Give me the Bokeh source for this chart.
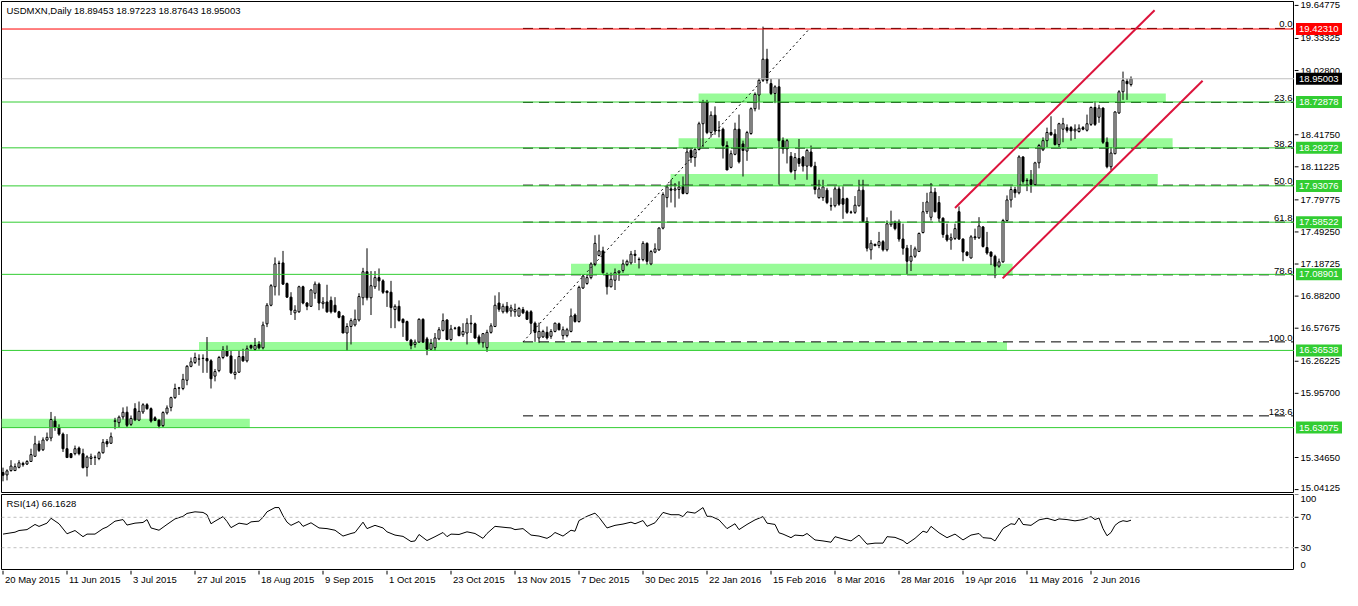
from bokeh.plotting import figure
from bokeh.layouts import column, row
from bokeh.models import Range1d, ColumnDataSource, Span
from bokeh.core.properties import value
from bokeh.embed import file_html
from bokeh.resources import INLINE

# ---------------- data ----------------
opens = [15.203, 15.181, 15.222, 15.222, 15.253, 15.290, 15.284, 15.309, 15.358, 15.476,
         15.420, 15.513, 15.532, 15.693, 15.631, 15.569, 15.430, 15.383, 15.383, 15.436,
         15.383, 15.253, 15.337, 15.346, 15.337, 15.392, 15.498, 15.482, 15.690, 15.678,
         15.733, 15.777, 15.662, 15.811, 15.702, 15.780, 15.848, 15.811, 15.724, 15.702,
         15.650, 15.771, 15.823, 15.916, 16.006, 16.003, 16.081, 16.214, 16.251, 16.282,
         16.288, 16.288, 16.266, 16.121, 16.173, 16.298, 16.360, 16.313, 16.136, 16.158,
         16.307, 16.266, 16.412, 16.375, 16.422, 16.390, 16.618, 16.795, 16.971, 17.192,
         17.198, 17.002, 16.872, 16.723, 16.733, 16.971, 16.816, 16.785, 16.909, 16.996,
         16.810, 16.826, 16.841, 16.795, 16.733, 16.692, 16.531, 16.593, 16.608, 16.655,
         16.866, 17.114, 16.866, 16.971, 17.058, 17.027, 16.930, 16.919, 16.754, 16.785,
         16.661, 16.640, 16.463, 16.422, 16.444, 16.661, 16.475, 16.376, 16.392, 16.475,
         16.556, 16.655, 16.469, 16.575, 16.587, 16.515, 16.531, 16.624, 16.618, 16.494,
         16.438, 16.392, 16.537, 16.593, 16.816, 16.733, 16.785, 16.740, 16.733, 16.692,
         16.754, 16.733, 16.733, 16.624, 16.484, 16.494, 16.537, 16.500, 16.546, 16.618,
         16.506, 16.506, 16.546, 16.702, 16.640, 16.959, 17.002, 17.058, 17.182, 17.269,
         17.312, 17.089, 16.971, 17.033, 17.105, 17.126, 17.182, 17.198, 17.281, 17.232,
         17.229, 17.384, 17.188, 17.300, 17.322, 17.529, 17.819, 17.902, 17.890, 17.896,
         17.927, 17.859, 18.268, 18.200, 18.277, 18.522, 18.724, 18.438, 18.603, 18.454,
         18.470, 18.315, 18.107, 18.231, 18.470, 18.330, 18.262, 18.429, 18.665, 18.795,
         18.935, 19.136, 18.904, 18.810, 18.873, 18.361, 18.284, 18.212, 18.076, 18.191,
         18.206, 18.119, 18.253, 18.119, 17.819, 17.819, 17.890, 17.742, 17.742, 17.902,
         17.809, 17.809, 17.679, 17.679, 17.741, 17.890, 17.592, 17.323, 17.375, 17.363,
         17.400, 17.323, 17.561, 17.580, 17.580, 17.425, 17.338, 17.214, 17.261, 17.307,
         17.487, 17.685, 17.632, 17.871, 17.772, 17.623, 17.462, 17.416, 17.431, 17.685,
         17.425, 17.301, 17.245, 17.446, 17.437, 17.540, 17.344, 17.301, 17.261, 17.167,
         17.208, 17.601, 17.797, 17.896, 17.865, 18.206, 17.980, 17.989, 17.942, 18.150,
         18.274, 18.361, 18.439, 18.423, 18.324, 18.470, 18.485, 18.485, 18.454, 18.448,
         18.485, 18.460, 18.516, 18.677, 18.584, 18.671, 18.346, 18.113, 18.237, 18.625,
         18.826, 18.925, 18.89453]
highs = [15.250, 15.234, 15.321, 15.290, 15.321, 15.306, 15.321, 15.430, 15.553, 15.507,
         15.538, 15.584, 15.780, 15.739, 15.662, 15.584, 15.569, 15.389, 15.460, 15.451,
         15.430, 15.367, 15.383, 15.367, 15.405, 15.522, 15.522, 15.584, 15.724, 15.746,
         15.823, 15.832, 15.746, 15.863, 15.879, 15.863, 15.863, 15.823, 15.739, 15.708,
         15.786, 15.842, 15.925, 16.049, 16.018, 16.142, 16.226, 16.298, 16.344, 16.328,
         16.328, 16.493, 16.282, 16.189, 16.313, 16.406, 16.412, 16.360, 16.282, 16.360,
         16.381, 16.412, 16.422, 16.484, 16.453, 16.639, 16.816, 16.996, 17.250, 17.219,
         17.312, 17.011, 16.919, 16.795, 16.981, 16.981, 16.826, 16.950, 17.021, 17.011,
         16.872, 16.990, 16.878, 16.872, 16.742, 16.702, 16.624, 16.671, 16.754, 16.909,
         17.151, 17.337, 17.120, 17.120, 17.145, 17.042, 16.935, 17.027, 16.804, 16.841,
         16.671, 16.649, 16.475, 16.469, 16.671, 16.671, 16.494, 16.475, 16.531, 16.587,
         16.717, 16.661, 16.608, 16.590, 16.593, 16.624, 16.671, 16.702, 16.630, 16.515,
         16.531, 16.562, 16.624, 16.888, 16.919, 16.810, 16.826, 16.800, 16.810, 16.779,
         16.779, 16.748, 16.748, 16.640, 16.630, 16.562, 16.593, 16.568, 16.630, 16.630,
         16.593, 16.580, 16.764, 16.717, 16.981, 17.089, 17.089, 17.204, 17.461, 17.467,
         17.352, 17.105, 17.105, 17.145, 17.126, 17.229, 17.229, 17.312, 17.321, 17.250,
         17.405, 17.393, 17.321, 17.384, 17.538, 17.870, 17.943, 17.989, 17.958, 17.974,
         18.020, 18.299, 18.284, 18.293, 18.541, 18.749, 18.749, 18.640, 18.687, 18.547,
         18.485, 18.355, 18.268, 18.532, 18.609, 18.361, 18.454, 18.677, 18.820, 18.956,
         19.446, 19.235, 18.950, 18.888, 18.950, 18.392, 18.377, 18.253, 18.243, 18.377,
         18.212, 18.284, 18.315, 18.160, 17.989, 17.989, 17.912, 17.819, 17.927, 17.927,
         17.927, 17.819, 17.695, 17.834, 17.989, 17.989, 17.632, 17.415, 17.380, 17.493,
         17.415, 17.601, 17.695, 17.601, 17.611, 17.571, 17.369, 17.369, 17.353, 17.487,
         17.778, 17.865, 17.958, 17.911, 17.834, 17.632, 17.571, 17.478, 17.571, 17.735,
         17.431, 17.307, 17.462, 17.524, 17.633, 17.549, 17.493, 17.307, 17.276, 17.239,
         17.617, 17.840, 17.927, 17.921, 18.222, 18.212, 18.004, 18.082, 18.160, 18.330,
         18.392, 18.485, 18.593, 18.470, 18.531, 18.578, 18.516, 18.500, 18.516, 18.516,
         18.500, 18.609, 18.686, 18.733, 18.702, 18.677, 18.392, 18.299, 18.640, 18.841,
         19.018, 18.950, 18.97223]
lows = [15.120, 15.129, 15.212, 15.222, 15.243, 15.259, 15.275, 15.306, 15.352, 15.399,
        15.408, 15.501, 15.501, 15.600, 15.553, 15.399, 15.346, 15.340, 15.367, 15.367,
        15.243, 15.166, 15.275, 15.275, 15.321, 15.383, 15.445, 15.476, 15.615, 15.631,
        15.708, 15.637, 15.647, 15.693, 15.693, 15.761, 15.801, 15.678, 15.693, 15.625,
        15.637, 15.755, 15.786, 15.904, 15.941, 15.987, 16.034, 16.205, 16.236, 16.220,
        16.152, 16.152, 16.003, 16.071, 16.158, 16.282, 16.307, 16.142, 16.090, 16.152,
        16.257, 16.251, 16.375, 16.360, 16.375, 16.375, 16.587, 16.785, 16.888, 16.888,
        16.990, 16.866, 16.702, 16.655, 16.723, 16.804, 16.748, 16.779, 16.857, 16.748,
        16.763, 16.723, 16.717, 16.723, 16.671, 16.531, 16.361, 16.422, 16.593, 16.640,
        16.795, 16.841, 16.702, 16.950, 16.934, 16.903, 16.779, 16.577, 16.577, 16.640,
        16.494, 16.453, 16.376, 16.392, 16.438, 16.438, 16.320, 16.370, 16.361, 16.463,
        16.546, 16.463, 16.453, 16.562, 16.500, 16.494, 16.422, 16.531, 16.475, 16.422,
        16.392, 16.351, 16.525, 16.587, 16.733, 16.717, 16.717, 16.686, 16.686, 16.686,
        16.711, 16.655, 16.531, 16.447, 16.438, 16.484, 16.469, 16.475, 16.537, 16.556,
        16.469, 16.490, 16.537, 16.630, 16.630, 16.950, 16.990, 17.042, 17.167, 17.260,
        17.095, 16.897, 16.965, 16.940, 17.027, 17.105, 17.167, 17.182, 17.198, 17.145,
        17.213, 17.182, 17.176, 17.290, 17.312, 17.517, 17.726, 17.772, 17.726, 17.809,
        17.850, 17.850, 18.150, 18.113, 18.268, 18.299, 18.423, 18.392, 18.417, 18.392,
        18.191, 18.082, 18.098, 18.222, 18.144, 18.020, 18.169, 18.417, 18.640, 18.656,
        18.919, 18.904, 18.795, 18.718, 17.943, 18.237, 18.144, 18.051, 17.989, 18.113,
        18.067, 17.989, 18.107, 17.850, 17.809, 17.788, 17.757, 17.695, 17.726, 17.741,
        17.617, 17.664, 17.664, 17.664, 17.735, 17.586, 17.307, 17.230, 17.355, 17.338,
        17.307, 17.307, 17.540, 17.508, 17.400, 17.276, 17.090, 17.121, 17.245, 17.301,
        17.478, 17.663, 17.601, 17.679, 17.586, 17.437, 17.400, 17.323, 17.416, 17.416,
        17.214, 17.261, 17.239, 17.416, 17.425, 17.344, 17.276, 17.177, 17.053, 17.152,
        17.199, 17.592, 17.725, 17.818, 17.850, 17.952, 17.881, 17.865, 17.933, 18.098,
        18.262, 18.299, 18.408, 18.315, 18.299, 18.346, 18.438, 18.361, 18.377, 18.438,
        18.460, 18.448, 18.501, 18.501, 18.531, 18.330, 18.098, 18.082, 18.231, 18.615,
        18.749, 18.749, 18.87643]
closes = [15.178, 15.219, 15.265, 15.259, 15.296, 15.278, 15.309, 15.374, 15.476, 15.414,
          15.513, 15.538, 15.708, 15.631, 15.569, 15.430, 15.346, 15.346, 15.430, 15.383,
          15.250, 15.352, 15.352, 15.349, 15.392, 15.491, 15.476, 15.544, 15.696, 15.730,
          15.777, 15.653, 15.718, 15.705, 15.786, 15.848, 15.811, 15.693, 15.699, 15.647,
          15.774, 15.817, 15.916, 16.003, 16.009, 16.090, 16.214, 16.257, 16.298, 16.285,
          16.291, 16.266, 16.096, 16.164, 16.298, 16.369, 16.313, 16.152, 16.158, 16.307,
          16.266, 16.381, 16.390, 16.412, 16.390, 16.607, 16.795, 16.981, 17.188, 17.195,
          16.996, 16.872, 16.748, 16.748, 16.971, 16.816, 16.785, 16.940, 16.996, 16.816,
          16.826, 16.733, 16.733, 16.733, 16.680, 16.531, 16.593, 16.649, 16.661, 16.878,
          17.114, 16.866, 16.981, 17.058, 17.027, 16.919, 16.915, 16.773, 16.785, 16.649,
          16.630, 16.463, 16.413, 16.444, 16.661, 16.444, 16.376, 16.432, 16.484, 16.562,
          16.649, 16.469, 16.568, 16.578, 16.506, 16.546, 16.624, 16.618, 16.484, 16.438,
          16.525, 16.537, 16.599, 16.795, 16.757, 16.785, 16.733, 16.770, 16.754, 16.764,
          16.723, 16.661, 16.624, 16.537, 16.546, 16.546, 16.484, 16.546, 16.624, 16.562,
          16.562, 16.562, 16.692, 16.640, 16.965, 17.073, 17.058, 17.188, 17.384, 17.312,
          17.105, 16.971, 17.042, 17.105, 17.120, 17.188, 17.213, 17.281, 17.269, 17.229,
          17.384, 17.213, 17.306, 17.331, 17.529, 17.848, 17.921, 17.890, 17.902, 17.921,
          17.859, 18.253, 18.200, 18.277, 18.522, 18.724, 18.438, 18.603, 18.454, 18.460,
          18.315, 18.082, 18.237, 18.470, 18.160, 18.268, 18.438, 18.665, 18.801, 18.935,
          19.136, 18.935, 18.810, 18.873, 18.361, 18.284, 18.361, 18.067, 18.200, 18.144,
          18.119, 18.268, 18.119, 17.896, 17.902, 17.921, 17.772, 17.739, 17.902, 17.757,
          17.757, 17.679, 17.682, 17.747, 17.890, 17.592, 17.338, 17.385, 17.363, 17.400,
          17.323, 17.570, 17.580, 17.524, 17.425, 17.338, 17.214, 17.261, 17.332, 17.478,
          17.685, 17.778, 17.871, 17.685, 17.623, 17.468, 17.416, 17.437, 17.524, 17.425,
          17.301, 17.270, 17.446, 17.437, 17.549, 17.354, 17.292, 17.261, 17.167, 17.208,
          17.601, 17.797, 17.896, 17.865, 18.206, 17.973, 17.984, 17.942, 18.150, 18.315,
          18.361, 18.439, 18.417, 18.324, 18.522, 18.522, 18.460, 18.454, 18.470, 18.479,
          18.470, 18.522, 18.677, 18.516, 18.671, 18.346, 18.113, 18.243, 18.634, 18.826,
          18.935, 18.903, 18.95003]
bars = list(range(1, len(closes) + 1))

symbol = "USDMXN,Daily"

# horizontal levels
green_levels = [18.72878, 18.29272, 17.93076, 17.58522, 17.08901, 16.36538, 15.63075]
red_level = 19.42310

# light-green zones (bar range, price range)
zone_left = [0.6, 50.0, 143.0, 167.9, 169.9, 174.9]
zone_right = [62.7, 252.0, 253.4, 289.7, 293.4, 291.7]
zone_bottom = [15.63075, 16.36538, 17.08901, 17.93076, 18.29272, 18.72878]
zone_top = [15.714, 16.446, 17.191, 18.044, 18.385, 18.810]

# Fibonacci retracement
fib_high = 19.429
fib_low = 16.4465
fib_bar_low = 131.0
fib_bar_high = 202.7
fib_pcts = [0.0, 23.6, 38.2, 50.0, 61.8, 78.6, 100.0, 123.6, 150.0]

# red channel
chan_up_x = [239.0, 288.9]
chan_up_y = [17.721, 19.601]
chan_dn_x = [250.9, 300.9]
chan_dn_y = [17.051, 18.931]

# price axis ticks
y_ticks = [19.64775, 19.33325, 19.02800, 18.41750, 18.11225, 17.79775, 17.49250,
           17.18725, 16.88200, 16.57675, 16.26225, 15.95700, 15.34650, 15.04125]

# date axis
date_ticks = [1, 17, 33, 49, 65, 81, 97, 113, 129, 145, 161, 177, 193, 209, 225, 241, 257, 273]
date_labels = ["20 May 2015", "11 Jun 2015", "3 Jul 2015", "27 Jul 2015", "18 Aug 2015",
               "9 Sep 2015", "1 Oct 2015", "23 Oct 2015", "13 Nov 2015", "7 Dec 2015",
               "30 Dec 2015", "22 Jan 2016", "15 Feb 2016", "8 Mar 2016", "28 Mar 2016",
               "19 Apr 2016", "11 May 2016", "2 Jun 2016"]

# RSI(14) vertices (bar, value)
rsi_bars = [1, 4, 5, 7, 9, 10, 12, 13, 15, 17, 19, 21, 22, 24, 26, 27, 29, 31, 32, 34,
            36, 37, 38, 40, 42, 44, 46, 47, 49, 51, 52, 53, 54, 56, 57, 58, 60, 62, 63, 64,
            65, 66, 67, 69, 70, 71, 72, 73, 75, 76, 78, 80, 82, 84, 86, 88, 89, 91, 92, 94,
            96, 97, 99, 101, 103, 104, 105, 107, 109, 111, 112, 113, 115, 117, 119, 121, 122,
            124, 127, 128, 129, 131, 133, 135, 137, 138, 139, 141, 143, 144, 145, 147, 149,
            150, 152, 154, 156, 158, 159, 161, 162, 164, 166, 168, 170, 171, 172, 174, 176,
            177, 178, 180, 182, 184, 185, 187, 189, 191, 192, 194, 195, 196, 198, 199, 201,
            202, 204, 206, 208, 209, 211, 213, 215, 217, 219, 221, 222, 224, 226, 227, 229,
            231, 232, 233, 235, 237, 239, 241, 243, 245, 246, 248, 249, 251, 253, 254, 255,
            256, 258, 260, 262, 264, 265, 267, 269, 271, 273, 274, 275, 276, 277, 278, 279,
            280, 281, 282, 283]
rsi_vals = [47.9, 50.4, 52.6, 53.8, 60.6, 58.0, 62.3, 68.7, 61.5, 48.3, 52.6, 44.5, 47.9,
            47.9, 55.1, 57.2, 64.9, 67.0, 59.8, 62.3, 63.2, 67.0, 56.0, 53.0, 60.6, 67.9,
            71.3, 75.1, 77.2, 76.4, 73.4, 61.5, 64.9, 70.9, 64.5, 56.4, 62.3, 60.6, 64.0,
            64.5, 64.9, 70.0, 77.2, 82.8, 82.8, 72.1, 63.6, 59.4, 64.5, 58.1, 62.8, 56.0,
            55.1, 53.0, 45.3, 48.7, 50.0, 63.6, 55.1, 59.4, 56.0, 50.9, 46.6, 44.9, 38.1,
            38.9, 47.4, 39.4, 44.5, 50.0, 44.5, 47.9, 47.4, 50.9, 48.7, 42.3, 48.7, 58.1,
            56.4, 56.0, 53.8, 55.1, 46.6, 45.3, 42.3, 45.3, 50.0, 45.3, 53.0, 51.7, 65.7,
            71.3, 75.5, 70.0, 56.0, 59.4, 61.1, 63.6, 61.5, 65.7, 58.1, 62.8, 76.4, 73.4,
            73.4, 70.9, 77.2, 75.5, 82.8, 71.3, 71.3, 66.6, 55.1, 61.5, 53.8, 60.6, 66.6,
            70.9, 62.3, 60.6, 49.6, 47.9, 43.2, 46.6, 45.7, 48.7, 40.2, 38.9, 37.2, 44.5,
            41.5, 38.9, 46.6, 34.7, 36.0, 36.0, 44.5, 43.6, 39.4, 35.1, 42.3, 51.7, 50.0,
            58.1, 49.6, 43.2, 47.9, 40.2, 46.6, 48.7, 43.2, 42.3, 38.9, 55.1, 61.5, 60.6,
            69.1, 60.6, 59.4, 66.6, 68.7, 65.7, 67.9, 67.0, 65.3, 67.0, 70.9, 67.0, 69.1,
            55.1, 45.7, 50.0, 59.4, 63.5, 65.5, 64.5, 66.1628]
rsi_levels = [70, 30]
rsi_ticks = [100, 70, 30, 0]

# ---------------- layout constants ----------------
FRAME_W = 1293
MAIN_H = 492
RSI_H = 76
AX_W = 48
DATE_H = 19
BAR_PX = 4.0                         # pixels per bar, as in the original
X_START = 0.625
X_END = X_START + FRAME_W / BAR_PX
Y_LOW, Y_HIGH = 15.004, 19.685
FONT = "Liberation Sans"
FS = "9.5px"
PX = MAIN_H / (Y_HIGH - Y_LOW)      # pixels per price unit
RPX = RSI_H / 100.0                 # pixels per RSI unit


def fig(**kw):
    f = figure(toolbar_location=None, output_backend="svg", x_axis_location=None,
               y_axis_location=None, min_border_left=0, min_border_right=0,
               min_border_top=0, min_border_bottom=0, **kw)
    f.grid.visible = False
    f.background_fill_color = "white"
    f.border_fill_color = "white"
    return f


xr = Range1d(X_START, X_END)
yr = Range1d(Y_LOW, Y_HIGH)

# ---------------- main price panel ----------------
p = fig(frame_width=FRAME_W, frame_height=MAIN_H, x_range=xr, y_range=yr)
p.min_border_left = 1
p.min_border_top = 1
p.outline_line_color = "black"
p.outline_line_width = 1

p.quad(left=zone_left, right=zone_right, bottom=zone_bottom, top=zone_top,
       fill_color="#98FB98", line_color=None)

tops = [max(o, c) for o, c in zip(opens, closes)]
bots = [min(o, c) for o, c in zip(opens, closes)]
fills = ["white" if c >= o else "black" for o, c in zip(opens, closes)]
src = ColumnDataSource(dict(x=bars, h=highs, l=lows, top=tops, bot=bots, fill=fills))
p.segment(x0="x", x1="x", y0="l", y1="h", source=src, line_color="black", line_width=1)
p.vbar(x="x", width=0.5, top="top", bottom="bot", fill_color="fill",
       line_color="black", line_width=1, source=src)

fib_levels = [fib_high - pc / 100.0 * (fib_high - fib_low) for pc in fib_pcts]
p.segment(x0=[fib_bar_low] * len(fib_levels), x1=[X_END] * len(fib_levels),
          y0=fib_levels, y1=fib_levels, line_color="black", line_width=1, line_dash="10 6")
p.line([fib_bar_low, fib_bar_high], [fib_low, fib_high], line_color="black",
       line_width=1, line_dash="2 3")

p.segment(x0=[X_START] * len(green_levels), x1=[X_END] * len(green_levels),
          y0=green_levels, y1=green_levels, line_color="#32CD32", line_width=1)
p.segment(x0=[X_START], x1=[X_END], y0=[red_level], y1=[red_level],
          line_color="#FF0000", line_width=1)
p.segment(x0=[X_START], x1=[X_END], y0=[closes[-1]], y1=[closes[-1]],
          line_color="#C0C0C0", line_width=1)

p.line(chan_up_x, chan_up_y, line_color="#DC143C", line_width=2)
p.line(chan_dn_x, chan_dn_y, line_color="#DC143C", line_width=2)

p.text(x=[X_END] * len(fib_pcts), y=[lv + 1.0 / PX for lv in fib_levels],
       text=[f"{pc:.1f}" for pc in fib_pcts], x_offset=-2, text_align="right",
       text_baseline="bottom", text_font=value(FONT), text_font_size=FS, text_color="black")

title = f"{symbol}  {opens[-1]:.5f} {highs[-1]:.5f} {lows[-1]:.5f} {closes[-1]:.5f}"
p.text(x=[X_START], y=[Y_HIGH - 3.0 / PX], text=[title], x_offset=5, text_align="left",
       text_baseline="top", text_font=value(FONT), text_font_size=FS, text_color="black")

# ---------------- price axis strip ----------------
pax = fig(frame_width=AX_W, frame_height=MAIN_H, x_range=Range1d(0, AX_W), y_range=yr)
pax.min_border_top = 1
pax.outline_line_color = None
pax.segment(x0=[0] * len(y_ticks), x1=[4] * len(y_ticks), y0=y_ticks, y1=y_ticks,
            line_color="black", line_width=1)
tick_y = [max(v, Y_LOW + 6.0 / PX) for v in y_ticks]
pax.text(x=[6] * len(y_ticks), y=tick_y, text=[f"{v:.5f}" for v in y_ticks],
         text_align="left", text_baseline="middle", text_font=value(FONT),
         text_font_size=FS, text_color="black")

box_vals = [red_level, closes[-1]] + green_levels
box_cols = ["#FF0000", "black"] + ["#32CD32"] * len(green_levels)
pax.rect(x=[AX_W / 2 + 0.5] * len(box_vals), y=box_vals, width=46, height=12,
         width_units="screen", height_units="screen", fill_color=box_cols, line_color=None)
pax.text(x=[4.5] * len(box_vals), y=box_vals, text=[f"{v:.5f}" for v in box_vals],
         text_align="left", text_baseline="middle", text_font=value(FONT),
         text_font_size=FS, text_color="white")

# ---------------- RSI panel ----------------
rr = Range1d(0, 100)
r = fig(frame_width=FRAME_W, frame_height=RSI_H, x_range=xr, y_range=rr)
r.min_border_left = 1
r.min_border_top = 1
r.outline_line_color = "black"
for lv in rsi_levels:
    r.add_layout(Span(location=lv, dimension="width", line_color="#C0C0C0",
                      line_dash="3 3", line_width=1))
r.line(rsi_bars, rsi_vals, line_color="black", line_width=1)
rsi_title = f"RSI(14) {rsi_vals[-1]:.4f}"
r.text(x=[X_START], y=[100 - 3.0 / RPX], text=[rsi_title], x_offset=5, text_align="left",
       text_baseline="top", text_font=value(FONT), text_font_size=FS, text_color="black")

rax = fig(frame_width=AX_W, frame_height=RSI_H, x_range=Range1d(0, AX_W), y_range=rr)
rax.min_border_top = 1
rax.outline_line_color = None
rax.segment(x0=[0] * len(rsi_ticks), x1=[4] * len(rsi_ticks), y0=rsi_ticks, y1=rsi_ticks,
            line_color="black", line_width=1)
rax.text(x=[6], y=[rsi_ticks[0] - 1.0 / RPX], text=[str(rsi_ticks[0])], text_align="left",
         text_baseline="top", text_font=value(FONT), text_font_size=FS, text_color="black")
rax.text(x=[6, 6], y=rsi_ticks[1:3], text=[str(v) for v in rsi_ticks[1:3]], text_align="left",
         text_baseline="middle", text_font=value(FONT), text_font_size=FS, text_color="black")
rax.text(x=[6], y=[rsi_ticks[3] + 3.0 / RPX], text=[str(rsi_ticks[3])], text_align="left",
         text_baseline="bottom", text_font=value(FONT), text_font_size=FS, text_color="black")

# ---------------- date strip ----------------
d = fig(frame_width=FRAME_W, frame_height=DATE_H, x_range=xr, y_range=Range1d(0, DATE_H))
d.min_border_left = 1
d.outline_line_color = None
d.segment(x0=date_ticks, x1=date_ticks, y0=[DATE_H] * len(date_ticks),
          y1=[DATE_H - 4] * len(date_ticks), line_color="black", line_width=1)
d.text(x=date_ticks, y=[DATE_H - 3] * len(date_ticks), text=date_labels, x_offset=2,
       text_align="left", text_baseline="top", text_font=value(FONT), text_font_size=FS,
       text_color="black")

layout = column(row(p, pax, spacing=0), row(r, rax, spacing=0), d, spacing=0)
open("out.html", "w").write(file_html(layout, INLINE))
